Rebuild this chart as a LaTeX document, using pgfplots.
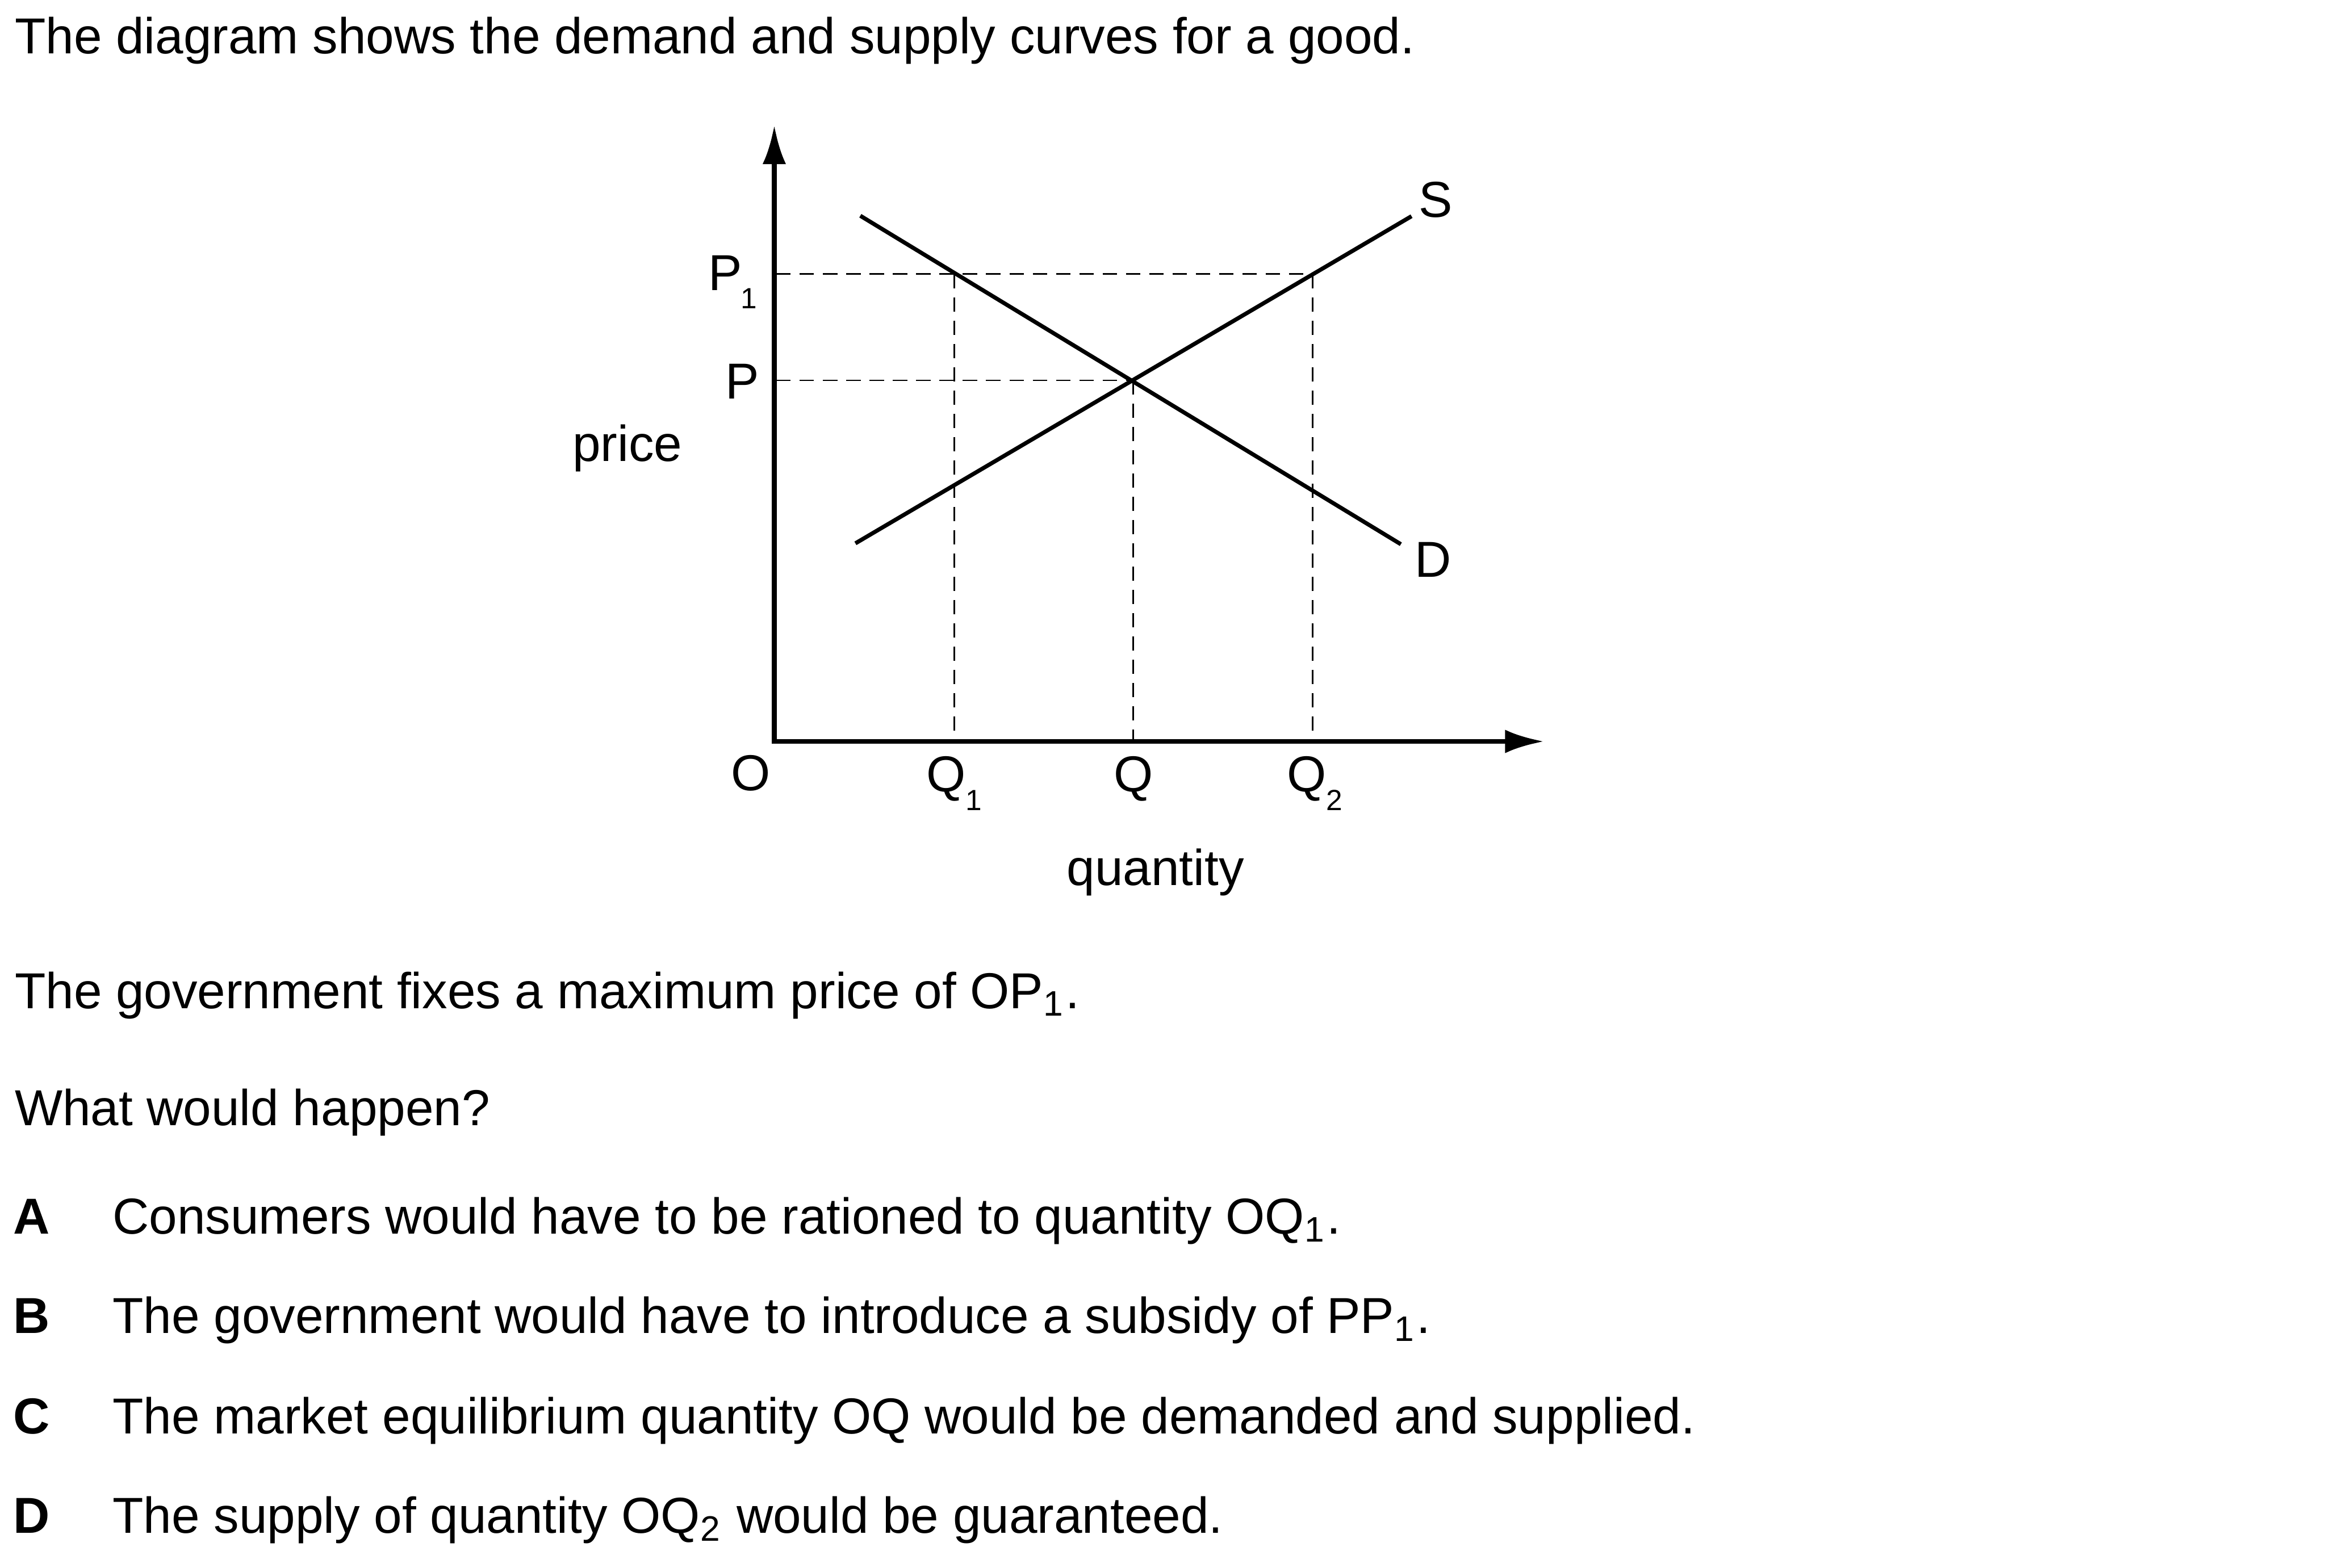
\documentclass[border=0pt]{standalone}
\usepackage{fontspec}
\setmainfont{Liberation Sans}
\usepackage{pgfplots}
\pgfplotsset{compat=1.18}
\usetikzlibrary{arrows.meta}
\newcommand{\mainsize}{\fontsize{9.7pt}{11.6pt}\selectfont}
\newcommand{\subsize}{\fontsize{5.6pt}{6.7pt}\selectfont}
\begin{document}
\begin{tikzpicture}
\begin{axis}[
  at={(52.2mm,-50.0mm)}, anchor=south west,
  scale only axis, width=51.91mm, height=41.57mm,
  xmin=0, xmax=519.1, ymin=0, ymax=415.7,
  axis lines*=left, xtick=\empty, ytick=\empty, clip=false,
  axis line style={line width=0.95pt, line cap=rect, -{Latex[length=2.64mm,width=1.58mm]}},
]
% demand and supply
\addplot[black, line width=0.78pt] coordinates {(58,354.5) (422.4,133)};
\addplot[black, line width=0.78pt] coordinates {(54.7,133.6) (429.6,354.2)};
% dashed guides
\addplot[black, line width=0.32pt, dash pattern=on 0.96mm off 0.61mm] coordinates {(1.5,315.2) (363,315.2)};
\addplot[black, line width=0.32pt, dash pattern=on 0.96mm off 0.61mm] coordinates {(1.5,243.5) (241.8,243.5)};
\addplot[black, line width=0.32pt, dash pattern=on 0.96mm off 0.61mm] coordinates {(121.3,315.2) (121.3,1.5)};
\addplot[black, line width=0.32pt, dash pattern=on 0.96mm off 0.61mm] coordinates {(241.8,243.5) (241.8,1.5)};
\addplot[black, line width=0.32pt, dash pattern=on 0.96mm off 0.61mm] coordinates {(363,315.2) (363,1.5)};
\end{axis}
\begin{scope}[x=0.1mm, y=-0.1mm, every node/.style={inner sep=0pt, outer sep=0pt, font=\mainsize}]
\path[use as bounding box] (0,0) rectangle (1568.1,1057.4);
\node[anchor=base west] at (10,36.3) {The diagram shows the demand and supply curves for a good.};
% axis labels
\node[anchor=base] at (488.8,195.8) {P};
\node[anchor=base, font=\subsize] at (505,208) {1};
\node[anchor=base] at (500.5,268.8) {P};
\node[anchor=base west] at (386,311) {price};
\node[anchor=base] at (506,533) {O};
\node[anchor=base] at (638,534) {Q};
\node[anchor=base, font=\subsize] at (656.3,546.6) {1};
\node[anchor=base] at (764,534) {Q};
\node[anchor=base] at (881,534) {Q};
\node[anchor=base, font=\subsize] at (899.5,546.6) {2};
\node[anchor=base] at (779,597) {quantity};
\node[anchor=base] at (968,146.5) {S};
\node[anchor=base] at (966,389) {D};
% question text
\node[anchor=base west] at (10,680) {The government fixes a maximum price of OP\textsubscript{1}.};
\node[anchor=base west] at (10,759) {What would happen?};
\node[anchor=base west] at (9,832) {\bfseries A};
\node[anchor=base west] at (76,832) {Consumers would have to be rationed to quantity OQ\textsubscript{1}.};
\node[anchor=base west] at (9,899) {\bfseries B};
\node[anchor=base west] at (76,899) {The government would have to introduce a subsidy of PP\textsubscript{1}.};
\node[anchor=base west] at (9,967) {\bfseries C};
\node[anchor=base west] at (76,967) {The market equilibrium quantity OQ would be demanded and supplied.};
\node[anchor=base west] at (9,1034) {\bfseries D};
\node[anchor=base west] at (76,1034) {The supply of quantity OQ\textsubscript{2} would be guaranteed.};
\end{scope}
\end{tikzpicture}
\end{document}
